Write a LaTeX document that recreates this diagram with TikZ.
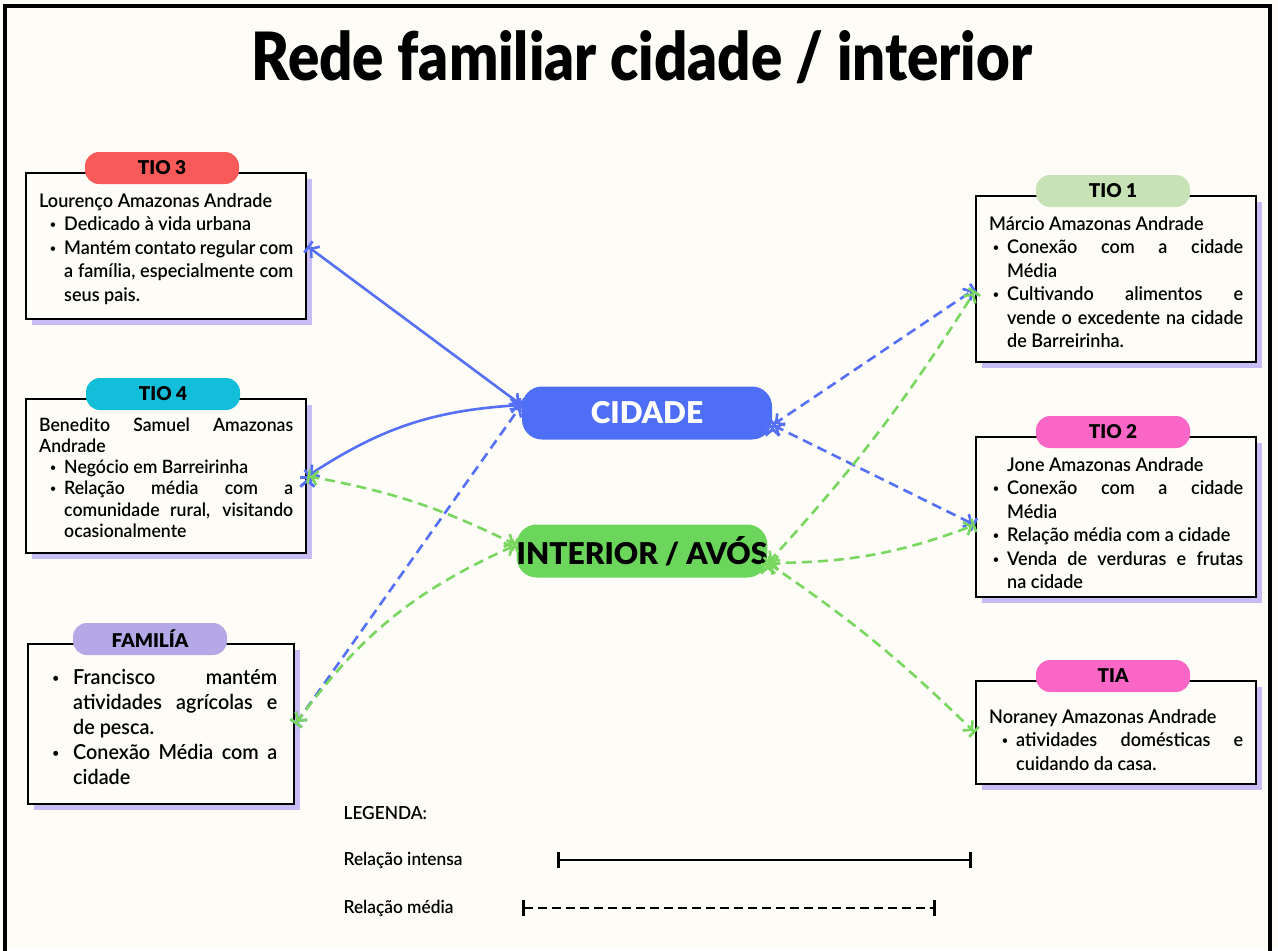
\documentclass[tikz,border=0pt]{standalone}
\usepackage{fontspec}
\setmainfont{Lato Semibold}[BoldFont=Lato Bold,FakeStretch=0.96]
\newfontfamily\heavyfont{Lato Black}
\usepackage{enumitem}
\usetikzlibrary{arrows.meta,shadows,positioning}
\setlist[itemize]{nosep,leftmargin=12.5pt,labelsep=4pt,
  label=\raisebox{0.2ex}{\scalebox{0.6}{\textbullet}}}
\setlength{\parindent}{0pt}
\hyphenpenalty=10000
\exhyphenpenalty=10000
\tolerance=9999

\definecolor{paper}{HTML}{FDFCF7}
\definecolor{cidadeC}{HTML}{4E6EF5}
\definecolor{interiorC}{HTML}{6BD65B}
\definecolor{tioRed}{HTML}{F85A5A}
\definecolor{tioCyan}{HTML}{13BEDB}
\definecolor{famC}{HTML}{B4A9E6}
\definecolor{tioGreen}{HTML}{C7E3B6}
\definecolor{tioPink}{HTML}{FA67C6}
\definecolor{shadowC}{HTML}{C8BCF4}
\definecolor{linkBlue}{HTML}{5670F5}
\definecolor{linkGreen}{HTML}{79D75F}

\begin{document}
\begin{tikzpicture}[x=0.5pt,y=-0.5pt,semithick]
  \tikzstyle{card}=[draw=black, line width=1.2pt, fill=paper, anchor=north west,
    text width=127pt, inner xsep=6.5pt, inner ysep=4pt, align=justify,
    font=\fontsize{9.4}{11.75}\selectfont,
    drop shadow={shadow xshift=3pt, shadow yshift=-3pt, fill=shadowC, opacity=1}]
  \tikzstyle{tag}=[rounded corners=7pt, minimum width=77pt, minimum height=16pt,
    inner sep=0pt, font=\heavyfont\fontsize{9.5}{10}\selectfont]
  \tikzstyle{hub}=[rounded corners=10pt, minimum width=125pt, minimum height=26.5pt,
    inner sep=0pt, font=\heavyfont\fontsize{15}{15}\selectfont]
  \tikzstyle{link}=[line width=1.3pt,
    arrows={Bar[width=7pt]Straight Barb[length=3pt,width=7pt]-Straight Barb[length=3pt,width=7pt]Bar[width=7pt]}]
  \tikzstyle{mid}=[link, dash pattern=on 5pt off 3pt]
  \tikzstyle{legend}=[anchor=west, inner sep=0pt, font=\fontsize{9}{11}\selectfont]
  \tikzstyle{sample}=[line width=1.3pt, arrows={Bar[width=8pt]-Bar[width=8pt]}]

  \useasboundingbox[fill=paper] (0,0) rectangle (1278,950);
  \draw[line width=2pt] (5,6) rectangle (1270,960);

  \node (title) at (642,57) {\resizebox{390pt}{25pt}{\heavyfont Rede familiar cidade / interior}};

  \node[card] (tio3) at (25,172) {\rule{0pt}{13pt}Lourenço Amazonas Andrade
    \begin{itemize}
      \item Dedicado à vida urbana
      \item Mantém contato regular com\linebreak a família, especialmente com\linebreak seus pais.\rule[-5pt]{0pt}{0pt}
    \end{itemize}};
  \node[tag, fill=tioRed] (tio3tag) at ([xshift=68.5pt,yshift=2pt]tio3.north west) {TIO 3};

  \node[card, font=\fontsize{9.2}{10.6}\selectfont] (tio4) at (25,398) {\rule{0pt}{12pt}Benedito Samuel Amazonas\linebreak Andrade
    \begin{itemize}
      \item Negócio em Barreirinha
      \item Relação média com a\linebreak comunidade rural, visitando\linebreak ocasionalmente\rule[-4pt]{0pt}{0pt}
    \end{itemize}};
  \node[tag, fill=tioCyan] (tio4tag) at ([xshift=69pt,yshift=2pt]tio4.north west) {TIO 4};

  \node[card, text width=116pt, inner xsep=8.5pt, font=\fontsize{10.3}{12.5}\selectfont] (fam) at (27,643) {\rule{0pt}{0pt}
    \begin{itemize}[leftmargin=14pt,labelsep=7pt]
      \item \rule{0pt}{15pt}Francisco mantém\linebreak atividades agrícolas e\linebreak de pesca.
      \item Conexão Média com a\linebreak cidade\rule[-6pt]{0pt}{0pt}
    \end{itemize}};
  \node[tag, fill=famC] (famtag) at ([xshift=61.5pt,yshift=2pt]fam.north west) {FAMILÍA};

  \node[card] (tio1) at (975,195) {\rule{0pt}{13pt}Márcio Amazonas Andrade
    \begin{itemize}[leftmargin=9pt]
      \item Conexão com a cidade\linebreak Média
      \item Cultivando alimentos e\linebreak vende o excedente na cidade\linebreak de Barreirinha.\rule[-3pt]{0pt}{0pt}
    \end{itemize}};
  \node[tag, fill=tioGreen] (tio1tag) at ([xshift=69pt,yshift=2pt]tio1.north west) {TIO 1};

  \node[card] (tio2) at (975,436) {\rule{0pt}{13pt}\hspace*{9pt}Jone Amazonas Andrade
    \begin{itemize}[leftmargin=9pt]
      \item Conexão com a cidade\linebreak Média
      \item Relação média com a cidade
      \item Venda de verduras e frutas\linebreak na cidade
    \end{itemize}};
  \node[tag, fill=tioPink] (tio2tag) at ([xshift=69pt,yshift=2pt]tio2.north west) {TIO 2};

  \node[card] (tia) at (975,680) {\rule{0pt}{17pt}Noraney Amazonas Andrade
    \begin{itemize}[leftmargin=13.5pt]
      \item atividades domésticas e\linebreak cuidando da casa.\rule[-3pt]{0pt}{0pt}
    \end{itemize}};
  \node[tag, fill=tioPink] (tiatag) at ([xshift=69pt,yshift=2pt]tia.north west) {TIA};

  \node[hub, fill=cidadeC, text=white] (cidade) at (647,413) {CIDADE};
  \node[hub, fill=interiorC] (interior) at (642,551) {INTERIOR / AVÓS};

  \coordinate (cidL) at ([yshift=4pt]cidade.west);
  \coordinate (cidR) at ([yshift=-6pt]cidade.east);
  \coordinate (intL) at ([yshift=3pt]interior.west);
  \coordinate (intR) at ([yshift=-6pt]interior.east);

  \path[link, draw=linkBlue]
    (tio3.east) edge (cidL)
    (tio4.east) edge[bend left=15] (cidL);
  \path[mid, draw=linkBlue]
    (fam.east) edge (cidL)
    (cidR) edge ([yshift=-5pt]tio1.west)
    (cidR) edge ([yshift=-4pt]tio2.west);
  \path[mid, draw=linkGreen]
    (tio4.east) edge[bend left=8] (intL)
    (fam.east) edge[bend left=15] (intL)
    (intR) edge[bend right=5] ([yshift=-6pt]tio1.west)
    (intR) edge[bend right=10] ([yshift=-4pt]tio2.west)
    (intR) edge[bend left=5] (tia.west);

  \node[legend] (legtitle) at (343,813) {LEGENDA:};
  \node[legend] (legstrong) at (343,860) {Relação intensa};
  \node[legend] (legmid) at (343,908) {Relação média};
  \coordinate (strongA) at (557,860);
  \coordinate (strongB) at (972,860);
  \coordinate (midA) at (522,908);
  \coordinate (midB) at (936,908);
  \draw[sample] (strongA) -- (strongB);
  \draw[sample, dash pattern=on 4.5pt off 2.5pt] (midA) -- (midB);
\end{tikzpicture}
\end{document}
